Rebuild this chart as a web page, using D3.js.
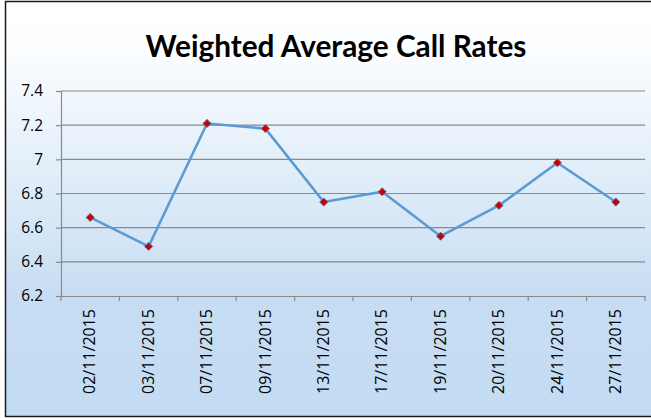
<!DOCTYPE html>
<html lang="en">
  <head>
    <meta charset="utf-8">
    <title>Weighted Average Call Rates</title>
    <script src="https://cdn.jsdelivr.net/npm/d3@7"></script>
    <style>
      body { margin: 0; }
      text { font-family: "Open Sans", sans-serif; fill: #000; }
    </style>
  </head>
  <body>
    <script type="text/javascript">

      var w = 651;
      var h = 418;
      var margin = {top: 91, right: 6, bottom: 122, left: 61};

      var dates = ["02/11/2015", "03/11/2015", "07/11/2015", "09/11/2015", "13/11/2015",
                   "17/11/2015", "19/11/2015", "20/11/2015", "24/11/2015", "27/11/2015"];
      var rates = [6.66, 6.49, 7.21, 7.18, 6.75, 6.81, 6.55, 6.73, 6.98, 6.75];
      var yTicks = [6.2, 6.4, 6.6, 6.8, 7, 7.2, 7.4];

      var svg = d3.select("body")
                  .append("svg")
                  .attr("width", w)
                  .attr("height", h);

      // background gradient
      var grad = svg.append("defs").append("linearGradient")
                    .attr("id", "bg")
                    .attr("x1", 0).attr("y1", 0).attr("x2", 0).attr("y2", 1);
      grad.append("stop").attr("offset", "0%").attr("stop-color", "#ffffff");
      grad.append("stop").attr("offset", "10%").attr("stop-color", "#fdfeff");
      grad.append("stop").attr("offset", "72%").attr("stop-color", "#c6ddf3");
      grad.append("stop").attr("offset", "100%").attr("stop-color", "#c4dcf3");

      svg.append("rect")
         .attr("x", 5.5).attr("y", 1.5)
         .attr("width", 650).attr("height", 415)
         .attr("fill", "url(#bg)")
         .attr("stroke", "#1a1a1a")
         .attr("stroke-width", 1.5);

      var x = d3.scaleBand()
                .domain(dates)
                .range([margin.left, w - margin.right]);

      var y = d3.scaleLinear()
                .domain([6.2, 7.4])
                .range([h - margin.bottom, margin.top]);

      // gridlines
      svg.selectAll("line.grid")
         .data(yTicks.slice(1))
         .enter()
         .append("line")
         .attr("class", "grid")
         .attr("x1", margin.left)
         .attr("x2", w - margin.right)
         .attr("y1", d => y(d))
         .attr("y2", d => y(d))
         .attr("stroke", "#8a8a8a")
         .attr("stroke-width", 1.2);

      var yAxis = d3.axisLeft(y)
                    .tickValues(yTicks)
                    .tickFormat(d3.format("~g"))
                    .tickSize(5)
                    .tickPadding(13);

      var gy = svg.append("g")
                  .attr("transform", "translate(" + margin.left + ",0)")
                  .call(yAxis);
      gy.select(".domain").attr("stroke", "#8a8a8a").attr("stroke-width", 1.2);
      gy.selectAll(".tick line").attr("stroke", "#8a8a8a").attr("stroke-width", 1.2);
      gy.selectAll(".tick text").style("font-size", "15.5px").attr("fill", "#000");

      // x axis with ticks on band boundaries
      var xAxis = d3.axisBottom(x).tickSize(0).tickPadding(0);
      var gx = svg.append("g")
                  .attr("transform", "translate(0," + (h - margin.bottom) + ")")
                  .call(xAxis);
      gx.select(".domain").attr("stroke", "#8a8a8a").attr("stroke-width", 1.2);
      gx.selectAll(".tick text")
        .style("font-size", "16px")
        .attr("fill", "#000")
        .attr("text-anchor", "end")
        .attr("transform", "rotate(-90)")
        .attr("x", -13)
        .attr("y", 0)
        .attr("dx", 0)
        .attr("dy", "0.32em");

      gx.selectAll("line.bt")
        .data(dates.concat(["end"]))
        .enter()
        .append("line")
        .attr("class", "bt")
        .attr("x1", (d, i) => x.range()[0] + i * x.step())
        .attr("x2", (d, i) => x.range()[0] + i * x.step())
        .attr("y1", 0)
        .attr("y2", 5)
        .attr("stroke", "#8a8a8a")
        .attr("stroke-width", 1.2);

      // line
      var line = d3.line()
                   .x((d, i) => x(dates[i]) + x.bandwidth() / 2)
                   .y(d => y(d));

      svg.append("path")
         .datum(rates)
         .attr("d", line)
         .attr("fill", "none")
         .attr("stroke", "#5b9bd5")
         .attr("stroke-width", 2.6)
         .attr("stroke-linejoin", "round");

      // square markers turned 45deg
      svg.selectAll("path.marker")
         .data(rates)
         .enter()
         .append("path")
         .attr("class", "marker")
         .attr("d", d3.symbol().type(d3.symbolSquare).size(34))
         .attr("transform", (d, i) => "translate(" + (x(dates[i]) + x.bandwidth() / 2) + "," + y(d) + ") rotate(45)")
         .attr("fill", "#cc0000")
         .attr("stroke", "#4a7fbf")
         .attr("stroke-width", 0.8);

      // title
      var title = svg.append("text")
                     .attr("x", 336)
                     .attr("y", 57)
                     .attr("text-anchor", "middle")
                     .style("font-family", "Lato, sans-serif")
                     .style("font-weight", "bold")
                     .style("font-size", "27px")
                     .text("Weighted Average Call Rates");
      var tw = title.node().getComputedTextLength();
      title.style("font-size", (27 * 381 / tw) + "px");

    </script>
  </body>
</html>
